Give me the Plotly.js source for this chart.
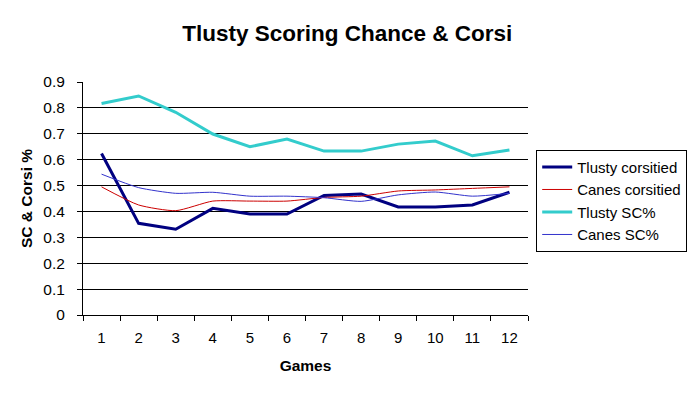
<!DOCTYPE html>
<html>
<head>
<meta charset="utf-8">
<script src="https://cdn.plot.ly/plotly-3.0.1.min.js"></script>
<style>
html,body{margin:0;padding:0;background:#fff;}
#chart{width:700px;height:394px;}
</style>
</head>
<body>
<div id="chart"></div>
<script>
const games = ['1','2','3','4','5','6','7','8','9','10','11','12'];
const tlustyCorsi = [0.624,0.354,0.331,0.412,0.390,0.390,0.462,0.467,0.417,0.417,0.425,0.474];
const canesCorsi  = [0.495,0.425,0.403,0.440,0.440,0.440,0.454,0.459,0.479,0.483,0.489,0.495];
const tlustySC    = [0.817,0.846,0.783,0.699,0.650,0.680,0.633,0.633,0.660,0.672,0.615,0.637];
const canesSC     = [0.544,0.492,0.470,0.474,0.459,0.459,0.453,0.439,0.464,0.475,0.459,0.470];
const yTicks = [0,0.1,0.2,0.3,0.4,0.5,0.6,0.7,0.8,0.9];
const yTickText = ['0','0.1','0.2','0.3','0.4','0.5','0.6','0.7','0.8','0.9'];

const font = 'Arial, "Liberation Sans", sans-serif';
const traces = [
  {x: games, y: tlustyCorsi, name: 'Tlusty corsitied', type: 'scatter', mode: 'lines',
   line: {color: '#000080', width: 3}},
  {x: games, y: canesCorsi, name: 'Canes corsitied', type: 'scatter', mode: 'lines',
   line: {color: '#cc0000', width: 1, shape: 'spline', smoothing: 0.6}},
  {x: games, y: tlustySC, name: 'Tlusty SC%', type: 'scatter', mode: 'lines',
   line: {color: '#33cccc', width: 3}},
  {x: games, y: canesSC, name: 'Canes SC%', type: 'scatter', mode: 'lines',
   line: {color: '#3333cc', width: 1, shape: 'spline', smoothing: 0.6}}
];

const layout = {
  width: 700, height: 394,
  margin: {l: 83, r: 172, t: 82, b: 79, pad: 0, autoexpand: false},
  paper_bgcolor: '#ffffff', plot_bgcolor: '#ffffff',
  font: {family: font, color: '#000', size: 15},
  title: {text: '<b>Tlusty Scoring Chance & Corsi</b>', font: {family: font, size: 22.5, color: '#000'},
          x: 0.496, xanchor: 'center', y: 0.915, yanchor: 'middle'},
  xaxis: {
    type: 'category', range: [-0.5, 11.5], fixedrange: true,
    tickson: 'boundaries', ticks: 'outside', ticklen: 5, tickcolor: '#000', tickwidth: 1,
    showline: true, linecolor: '#000', linewidth: 1, showgrid: false, zeroline: false,
    ticklabelstandoff: 9,
    tickfont: {family: font, size: 15, color: '#000'},
    title: {text: '<b>Games</b>', font: {family: font, size: 15.5, color: '#000'}, standoff: 15}
  },
  yaxis: {
    range: [0, 0.9], tickvals: yTicks, ticktext: yTickText,
    ticks: 'outside', ticklen: 5, tickcolor: '#000', tickwidth: 1,
    showline: true, linecolor: '#000', linewidth: 1,
    showgrid: true, gridcolor: '#000', gridwidth: 1, zeroline: false,
    ticklabelstandoff: 9,
    tickfont: {family: font, size: 15.5, color: '#000'},
    title: {text: '<b>SC & Corsi %</b>', font: {family: font, size: 15.5, color: '#000'}, standoff: 6}
  },
  showlegend: true,
  legend: {
    xref: 'container', yref: 'container',
    x: 0.766, xanchor: 'left', y: 0.620, yanchor: 'top',
    bordercolor: '#000', borderwidth: 1, bgcolor: '#fff',
    font: {family: font, size: 15, color: '#000'},
    traceorder: 'normal'
  }
};

Plotly.newPlot('chart', traces, layout, {staticPlot: true, displayModeBar: false});
</script>
</body>
</html>
